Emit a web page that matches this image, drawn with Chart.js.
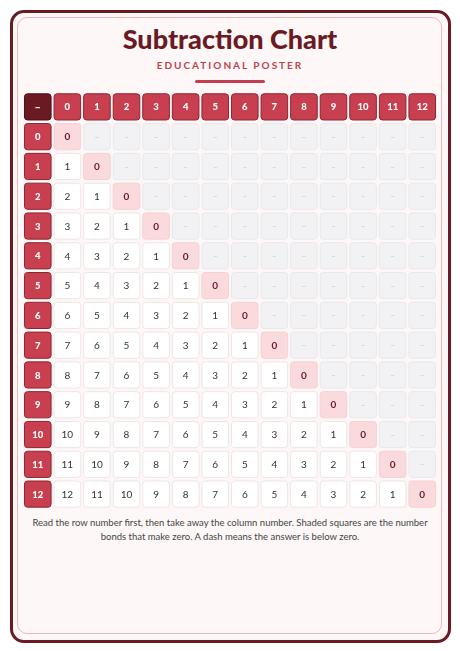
<!DOCTYPE html><html><head><meta charset="utf-8">
<script src="https://cdn.jsdelivr.net/npm/chart.js@4"></script>
<style>
html,body{margin:0;padding:0;width:460px;height:651px;background:#fff;overflow:hidden;font-family:Lato,sans-serif}
#frame{position:absolute;left:10px;top:10px;width:435px;height:627px;border:3px solid #6b1a24;border-radius:14px;background:#fdf8f7}
#inner{position:absolute;left:17px;top:17px;width:423px;height:615px;border:1.5px solid #e8b8bd;border-radius:10px}
#title{position:absolute;left:0;width:460px;top:22px;text-align:center;font:900 27px Lato,sans-serif;color:#6b1a24}
#sub{position:absolute;left:0;width:460px;top:59px;text-align:center;font:700 10px Lato,sans-serif;letter-spacing:2px;color:#c0404f}
#bar{position:absolute;left:195px;top:80px;width:70px;height:3px;background:#c0404f;border-radius:2px}
#note{position:absolute;left:30px;width:400px;top:516px;text-align:center;font:9.5px/14px Lato,sans-serif;color:#444}
canvas{position:absolute;left:0;top:0}
</style></head><body>
<div id="frame"></div><div id="inner"></div>
<div id="title">Subtraction Chart</div>
<div id="sub">EDUCATIONAL POSTER</div>
<div id="bar"></div>
<div id="note">Read the row number first, then take away the column number. Shaded squares are the number bonds that make zero. A dash means the answer is below zero.</div>
<div style="position:absolute;left:0;top:0;width:460px;height:651px"><canvas id="c"></canvas></div>
<script>
const columnNumbers=[0,1,2,3,4,5,6,7,8,9,10,11,12];
const rowNumbers=[0,1,2,3,4,5,6,7,8,9,10,11,12];
const cornerLabel="–";
const dashLabel="–";
// cell values: row - column, null when below zero
const cellValues=[
[0,null,null,null,null,null,null,null,null,null,null,null,null],
[1,0,null,null,null,null,null,null,null,null,null,null,null],
[2,1,0,null,null,null,null,null,null,null,null,null,null],
[3,2,1,0,null,null,null,null,null,null,null,null,null],
[4,3,2,1,0,null,null,null,null,null,null,null,null],
[5,4,3,2,1,0,null,null,null,null,null,null,null],
[6,5,4,3,2,1,0,null,null,null,null,null,null],
[7,6,5,4,3,2,1,0,null,null,null,null,null],
[8,7,6,5,4,3,2,1,0,null,null,null,null],
[9,8,7,6,5,4,3,2,1,0,null,null,null],
[10,9,8,7,6,5,4,3,2,1,0,null,null],
[11,10,9,8,7,6,5,4,3,2,1,0,null],
[12,11,10,9,8,7,6,5,4,3,2,1,0]];
const pts=[];
for(let r=0;r<=13;r++)for(let c=0;c<=13;c++)pts.push({x:c,y:r});
function rr(ctx,x,y,w,h,rad){ctx.beginPath();ctx.roundRect(x,y,w,h,rad);}
const cellPlugin={id:'cells',afterDatasetsDraw(ch){
 const ctx=ch.ctx,xs=ch.scales.x,ys=ch.scales.y;
 ctx.save();
 for(let r=0;r<=13;r++)for(let c=0;c<=13;c++){
  const x0=xs.getPixelForValue(c-0.45),x1=xs.getPixelForValue(c+0.45);
  const y0=ys.getPixelForValue(r-0.44),y1=ys.getPixelForValue(r+0.44);
  const cx=(x0+x1)/2,cy=(y0+y1)/2;
  let fill,stroke,txt,col,font;
  if(r===0&&c===0){fill='#6b1a24';stroke='#4a1018';txt=cornerLabel;col='#fff';font='900 11px Lato';}
  else if(r===0||c===0){fill='#c8404f';stroke='#8b2533';txt=String(r===0?columnNumbers[c-1]:rowNumbers[r-1]);col='#fff';font='900 9.5px Lato';}
  else{const v=cellValues[r-1][c-1];
   if(v===null){fill='#f2f2f4';stroke='#e8e8ec';txt=dashLabel;col='#c4c4c8';font='8px Lato';}
   else if(v===0){fill='#fadadd';stroke='#f6d0d4';txt='0';col='#6b1a24';font='700 10px Lato';}
   else{fill='#ffffff';stroke='#f0e4e4';txt=String(v);col='#333';font='10px Lato';}}
  rr(ctx,x0,y0,x1-x0,y1-y0,3);ctx.fillStyle=fill;ctx.fill();ctx.lineWidth=1;ctx.strokeStyle=stroke;ctx.stroke();
  ctx.fillStyle=col;ctx.font=font;ctx.textAlign='center';ctx.textBaseline='middle';ctx.fillText(txt,cx,cy+0.5);
 }
 ctx.restore();}};
new Chart(document.getElementById('c'),{type:'scatter',
 data:{datasets:[{data:pts,pointRadius:0,pointHoverRadius:0}]},
 options:{responsive:true,maintainAspectRatio:false,animation:false,events:[],
  layout:{padding:{left:23,right:23,top:92,bottom:142}},
  plugins:{legend:{display:false},tooltip:{enabled:false}},
  scales:{x:{type:'linear',min:-0.5,max:13.5,display:false},y:{type:'linear',min:-0.5,max:13.5,reverse:true,display:false}}},
 plugins:[cellPlugin]});
</script></body></html>
